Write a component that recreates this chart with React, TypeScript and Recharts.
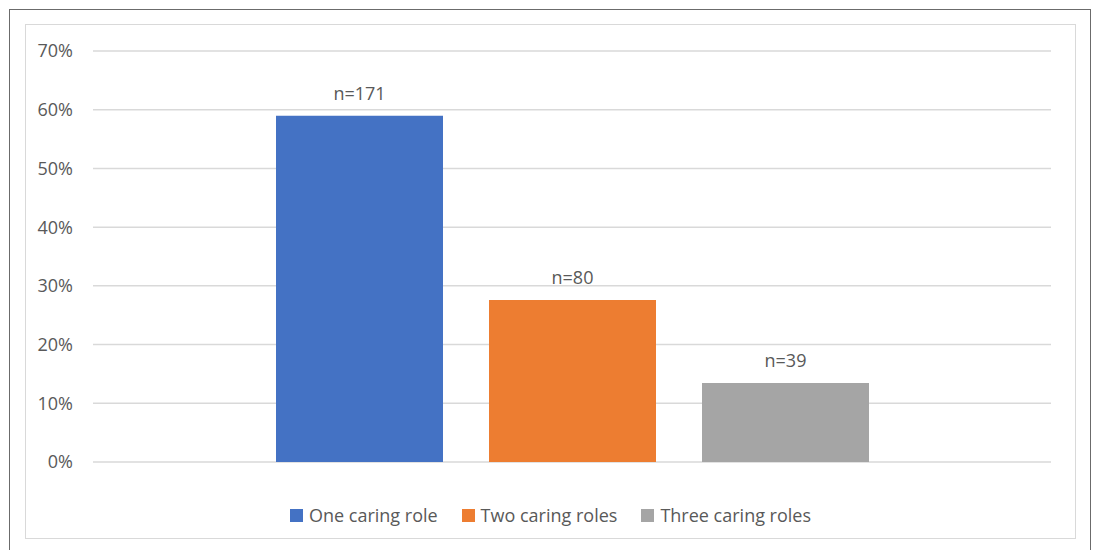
import React from 'react';
import { BarChart, Bar, XAxis, YAxis, CartesianGrid, Legend, LabelList } from 'recharts';

// Share of carers by number of caring roles (n = 290)
const categories = ['Caring roles'];
const seriesNames = ['One caring role', 'Two caring roles', 'Three caring roles'];
const counts = [171, 80, 39];
const shares = [0.5897, 0.2759, 0.1345];
const colors = ['#4472C4', '#ED7D31', '#A5A5A5'];
const yTicks = [0, 0.1, 0.2, 0.3, 0.4, 0.5, 0.6, 0.7];

const keys = ['one', 'two', 'three'];

const chartData = categories.map((name) => {
    const row: any = { name };
    keys.forEach((k, i) => {
        row[k] = shares[i];
        row[k + 'Label'] = `n=${counts[i]}`;
    });
    return row;
});

const FONT = '"Open Sans", sans-serif';
const TEXT = '#595959';

// Legend in series order, centred under the chart frame
function SeriesLegend() {
    return (
        <div style={{ height: 88, boxSizing: 'border-box', paddingTop: 18, display: 'flex', justifyContent: 'center', paddingLeft: 50 }}>
            {seriesNames.map((name, i) => (
                <div key={name} style={{ display: 'flex', alignItems: 'center', marginLeft: i === 0 ? 0 : 24 }}>
                    <span style={{ display: 'inline-block', width: 13, height: 13, background: colors[i], marginRight: 6 }} />
                    <span style={{ color: TEXT, fontSize: 18, fontFamily: FONT, lineHeight: '24px' }}>{name}</span>
                </div>
            ))}
        </div>
    );
}

export default function App() {
    return (
        <div style={{ position: 'absolute', left: 0, top: 0, width: 1094, height: 550, background: '#fff', overflow: 'hidden', fontFamily: FONT }}>
            {/* outer frame */}
            <div style={{ position: 'absolute', left: 9, top: 9, width: 1082, height: 560, border: '1.5px solid #6b6b6b', boxSizing: 'border-box' }} />
            {/* chart area frame */}
            <div style={{ position: 'absolute', left: 25, top: 24, width: 1051, height: 515, border: '1px solid #D9D9D9', boxSizing: 'border-box' }} />
            <div style={{ position: 'absolute', left: 0, top: 0 }}>
                <BarChart
                    width={1094}
                    height={550}
                    data={chartData}
                    margin={{ top: 51, right: 43, left: 0, bottom: 0 }}
                    barSize={167}
                    barGap={46}
                >
                    <CartesianGrid vertical={false} stroke="#D9D9D9" strokeWidth={1.5} />
                    <XAxis dataKey="name" hide />
                    <YAxis
                        width={93}
                        domain={[0, 0.7]}
                        ticks={yTicks}
                        interval={0}
                        axisLine={false}
                        tickLine={false}
                        tickSize={0}
                        tickMargin={20}
                        tickFormatter={(v) => `${Math.round(v * 100)}%`}
                        tick={{ fill: TEXT, fontSize: 18, fontFamily: FONT }}
                    />
                    <Legend verticalAlign="bottom" height={88} content={() => <SeriesLegend />} />
                    {keys.map((k, i) => (
                        <Bar key={k} dataKey={k} name={seriesNames[i]} fill={colors[i]} isAnimationActive={false}>
                            <LabelList
                                dataKey={k + 'Label'}
                                position="top"
                                offset={16}
                                style={{ fill: TEXT, fontSize: 18, fontFamily: FONT }}
                            />
                        </Bar>
                    ))}
                </BarChart>
            </div>
        </div>
    );
}
